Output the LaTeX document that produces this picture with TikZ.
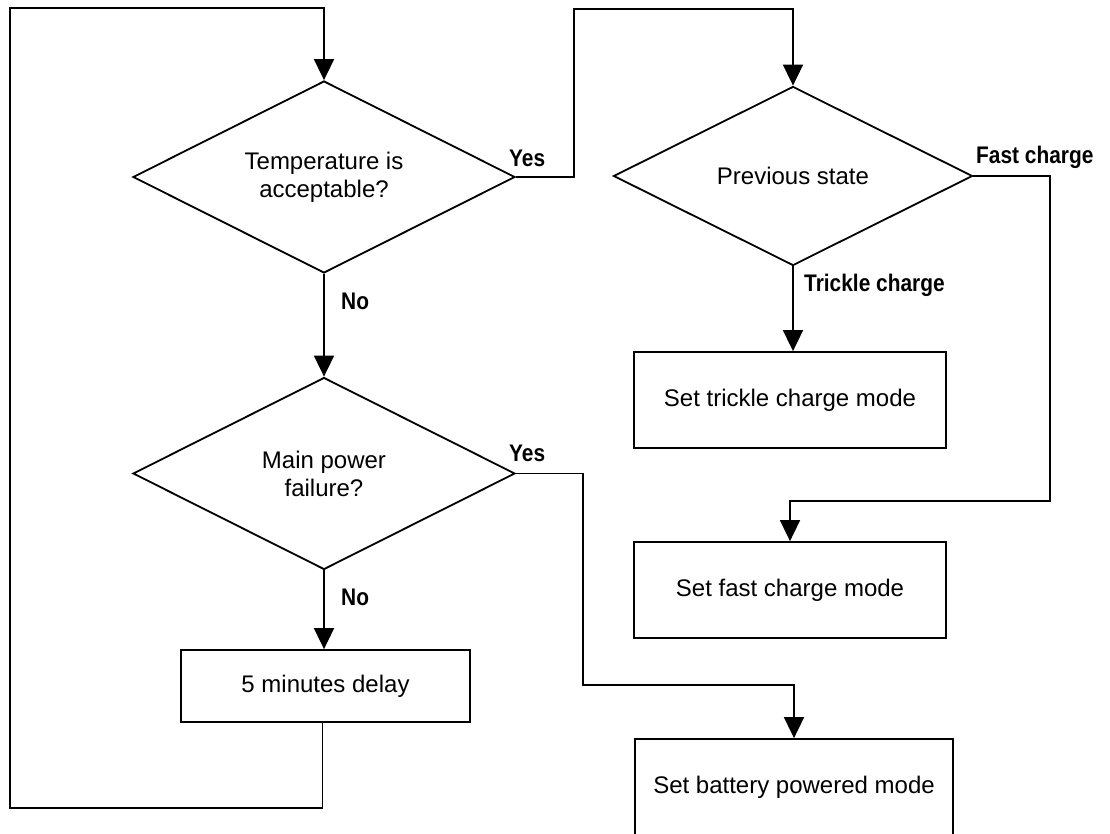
\documentclass[tikz,border=0pt]{standalone}
\usepackage{fontspec}
\setmainfont{Liberation Sans}
\newfontfamily\lblfont[FakeStretch=0.87]{Liberation Sans}
\usetikzlibrary{shapes.geometric,arrows.meta}
\begin{document}
\begin{tikzpicture}[x=1pt,y=-1pt,
  every node/.style={font=\fontsize{24}{28}\selectfont},
  line/.style={line width=1.8pt},
  arr/.style={line width=1.8pt, -{Triangle[width=20pt,length=21pt]}},
  decision/.style={diamond, draw, line width=1.8pt, inner sep=0pt, shape aspect=2,
    align=center, minimum width=382pt, minimum height=192pt},
  proc/.style={rectangle, draw, line width=1.8pt, align=center, inner sep=0pt},
  lbl/.style={font=\lblfont\bfseries\fontsize{24}{28}\selectfont, anchor=base west, inner sep=0pt}]
\useasboundingbox (0,0) rectangle (1110,834);

% decisions
\node[decision] (temp) at (324,177) {Temperature is\\acceptable?};
\node[decision] (power) at (324,473.5) {Main power\\failure?};
\node[decision, minimum width=359pt, minimum height=179pt] (prev) at (793,176) {Previous state};

% actions
\node[proc, minimum width=289pt, minimum height=72pt] (delay) at (325.5,686) {5 minutes delay};
\node[proc, minimum width=312pt, minimum height=96pt] (trickle) at (790,400) {Set trickle charge mode};
\node[proc, minimum width=312pt, minimum height=96pt] (fast) at (790,590) {Set fast charge mode};
\node[proc, minimum width=318pt, minimum height=96pt] (battery) at (794,787) {Set battery powered mode};

% flow
\draw[arr] ([xshift=-3pt]delay.south) -- ++(0,85) -| (9.6,8) -| (temp.north);
\draw[arr] (temp.east) -| (574,9) -| (prev.north);
\draw[arr] (temp.south) -- (power.north);
\draw[arr] (power.south) -- (power.south |- delay.north);
\draw[arr] (power.east) -| (583,685) -| (battery.north);
\draw[arr] (prev.east) -| (1050,501) -| (fast.north);
\draw[arr] (prev.south) -- (prev.south |- trickle.north);

% branch labels
\node[lbl] (yes1) at (509,166.7) {Yes};
\node[lbl] (no1) at (341,309) {No};
\node[lbl] (yes2) at (509,461.7) {Yes};
\node[lbl] (no2) at (341,605) {No};
\node[lbl] (fastlbl) at (976,164) {Fast charge};
\node[lbl] (tricklelbl) at (804,291) {Trickle charge};
\end{tikzpicture}
\end{document}
